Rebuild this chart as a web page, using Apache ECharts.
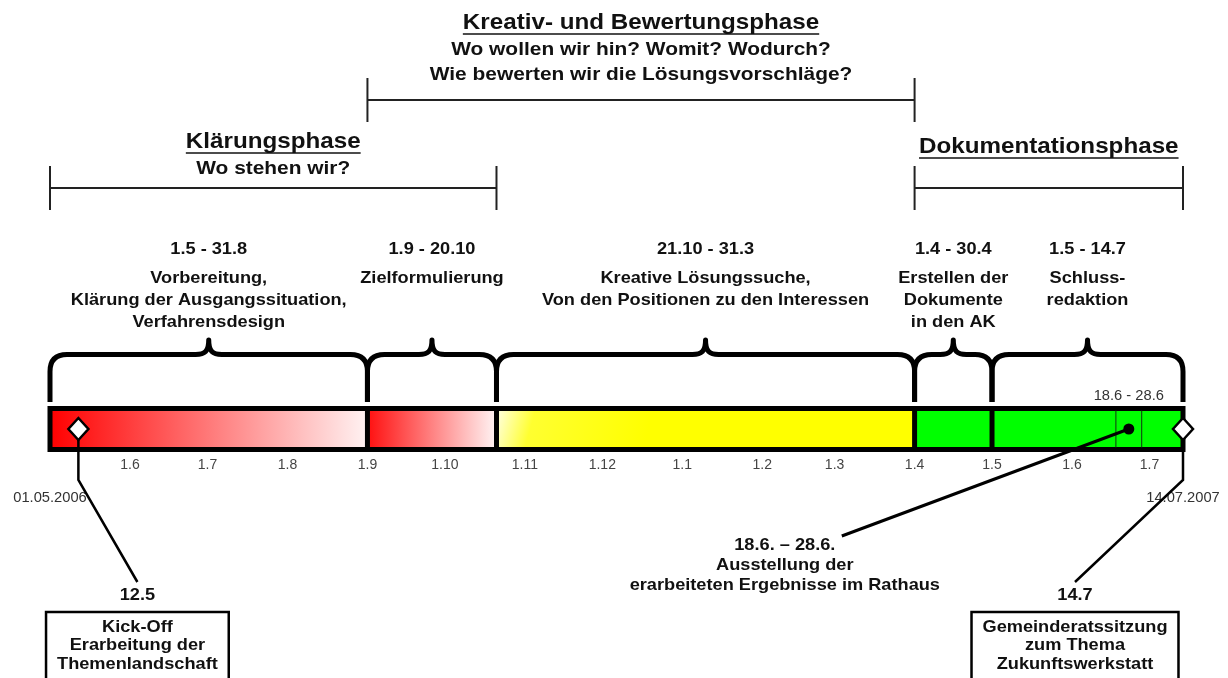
<!DOCTYPE html>
<html>
<head>
<meta charset="utf-8">
<title>Zukunftswerkstatt – Zeitplan</title>
<script src="https://cdn.jsdelivr.net/npm/echarts@6/dist/echarts.min.js"></script>
<style>
  html, body { margin: 0; padding: 0; background: #fff; }
  #chart { width: 1228px; height: 678px; }
</style>
</head>
<body>
<div id="chart"></div>
<script>
// --- Data ---
const timelineStart = '01.05.2006'
const timelineEnd = '14.07.2007'

const phaseTitles = ['Klärungsphase', 'Kreativ- und Bewertungsphase', 'Dokumentationsphase']
const phaseQuestions = [
  ['Wo stehen wir?'],
  ['Wo wollen wir hin? Womit? Wodurch?', 'Wie bewerten wir die Lösungsvorschläge?'],
  [],
]
const phaseStarts = ['01.05.2006', '01.09.2006', '01.04.2007']
const phaseEnds = ['21.10.2006', '01.04.2007', '14.07.2007']

const stepRanges = ['1.5 - 31.8', '1.9 - 20.10', '21.10 - 31.3', '1.4 - 30.4', '1.5 - 14.7']
const stepTexts = [
  ['Vorbereitung,', 'Klärung der Ausgangssituation,', 'Verfahrensdesign'],
  ['Zielformulierung'],
  ['Kreative Lösungssuche,', 'Von den Positionen zu den Interessen'],
  ['Erstellen der', 'Dokumente', 'in den AK'],
  ['Schluss-', 'redaktion'],
]
const stepStarts = ['01.05.2006', '01.09.2006', '21.10.2006', '01.04.2007', '01.05.2007']
const stepEnds = ['01.09.2006', '21.10.2006', '01.04.2007', '01.05.2007', '14.07.2007']

const monthTicks = [
  '01.06.2006', '01.07.2006', '01.08.2006', '01.09.2006', '01.10.2006', '01.11.2006',
  '01.12.2006', '01.01.2007', '01.02.2007', '01.03.2007', '01.04.2007', '01.05.2007',
  '01.06.2007', '01.07.2007',
]
const monthTickLabels = [
  '1.6', '1.7', '1.8', '1.9', '1.10', '1.11', '1.12', '1.1', '1.2', '1.3', '1.4', '1.5', '1.6', '1.7',
]

const exhibitionRange = ['18.06.2007', '28.06.2007']
const exhibitionShort = '18.6 - 28.6'
const exhibitionTexts = ['18.6. – 28.6.', 'Ausstellung der', 'erarbeiteten Ergebnisse im Rathaus']

const milestoneDates = ['12.05.2006', '14.07.2007']
const milestoneTitles = ['12.5', '14.7']
const milestoneTexts = [
  ['Kick-Off', 'Erarbeitung der', 'Themenlandschaft'],
  ['Gemeinderatssitzung', 'zum Thema', 'Zukunftswerkstatt'],
]

// --- Layout & styles ---
const FAMILY = '"Liberation Sans", Arial, Helvetica, sans-serif'
const TITLE_FONT = `bold 22px ${FAMILY}`
const QUESTION_FONT = `bold 19px ${FAMILY}`
const BODY_FONT = `bold 17px ${FAMILY}`
const SMALL_FONT = `14px ${FAMILY}`
const WIDE = 1.07 // source text is slightly stretched horizontally
const TITLE_WIDE = 1.1

const phaseRowY = [188, 100, 188]
const phaseTitleY = [142, 23, 147]
const bar = { top: 408.5, bottom: 449.5, mid: 429 }
const brace = { base: 402, top: 354.5, peak: 340, radius: 17 }
const stepRangeY = 249
const stepTextY = 278
const stepLineGap = 22
const tickLabelY = 465
const endLabelY = 498
const milestoneDx = [59, -108]
const exhibitionLineDx = -287
const exhibitionTextDx = -344

const stepFills = [
  new echarts.graphic.LinearGradient(0, 0, 1, 0, [
    { offset: 0, color: '#ff0000' },
    { offset: 1, color: '#fff2f2' },
  ]),
  new echarts.graphic.LinearGradient(0, 0, 1, 0, [
    { offset: 0, color: '#ff1010' },
    { offset: 1, color: '#fff4f4' },
  ]),
  new echarts.graphic.LinearGradient(0, 0, 0.35, 1, [
    { offset: 0, color: '#ffffe6' },
    { offset: 0.25, color: '#ffff30' },
    { offset: 1, color: '#ffff00' },
  ]),
  '#00ff00',
  '#00ff00',
]

// --- Helpers ---
const ts = (s) => {
  const [d, m, y] = s.split('.').map(Number)
  return new Date(y, m - 1, d).getTime()
}
const measureCtx = document.createElement('canvas').getContext('2d')
const textWidth = (text, font) => {
  measureCtx.font = font
  return measureCtx.measureText(text).width
}
const txt = (x, y, text, font, fill = '#111', scale = WIDE, align = 'center') => ({
  type: 'text',
  x,
  y,
  scaleX: scale,
  style: { x: 0, y: 0, text, font, fill, align, verticalAlign: 'middle' },
})
const seg = (x1, y1, x2, y2, lineWidth = 2, stroke = '#000') => ({
  type: 'line',
  shape: { x1, y1, x2, y2 },
  style: { stroke, lineWidth, lineCap: 'butt' },
})

const bracePath = (x0, x1) => {
  const xm = (x0 + x1) / 2
  const { base, top, peak, radius: r } = brace
  return (
    `M${x0} ${base} L${x0} ${top + r} Q${x0} ${top} ${x0 + r} ${top} ` +
    `L${xm - 13} ${top} C${xm - 4} ${top} ${xm} ${top - 3} ${xm} ${peak} ` +
    `C${xm} ${top - 3} ${xm + 4} ${top} ${xm + 13} ${top} ` +
    `L${x1 - r} ${top} Q${x1} ${top} ${x1} ${top + r} L${x1} ${base}`
  )
}

// --- Render functions ---
const renderPhase = (params, api) => {
  const i = params.dataIndex
  const x0 = api.coord([api.value(0), 0])[0]
  const x1 = api.coord([api.value(1), 0])[0]
  const y = api.coord([api.value(0), phaseRowY[i]])[1]
  const ty = api.coord([api.value(0), phaseTitleY[i]])[1]
  const cx = (x0 + x1) / 2
  const tw = textWidth(phaseTitles[i], TITLE_FONT) * TITLE_WIDE
  const children = [
    seg(x0, y, x1, y, 2, '#222'),
    seg(x0, y - 22, x0, y + 22, 2, '#222'),
    seg(x1, y - 22, x1, y + 22, 2, '#222'),
    txt(cx, ty, phaseTitles[i], TITLE_FONT, '#111', TITLE_WIDE),
    seg(cx - tw / 2, ty + 11, cx + tw / 2, ty + 11, 1.6, '#111'),
  ]
  phaseQuestions[i].forEach((q, k) => {
    children.push(txt(cx, ty + 27 + k * 25, q, QUESTION_FONT, '#111', TITLE_WIDE))
  })
  return { type: 'group', children }
}

const renderBrace = (params, api) => {
  const i = params.dataIndex
  const x0 = api.coord([api.value(0), 0])[0]
  const x1 = api.coord([api.value(1), 0])[0]
  const cx = (x0 + x1) / 2
  const children = [
    {
      type: 'path',
      shape: { pathData: bracePath(x0, x1) },
      style: { stroke: '#000', lineWidth: 5, fill: 'none', lineJoin: 'round' },
    },
    txt(cx, stepRangeY, stepRanges[i], BODY_FONT),
  ]
  stepTexts[i].forEach((t, k) => {
    children.push(txt(cx, stepTextY + k * stepLineGap, t, BODY_FONT))
  })
  return { type: 'group', children }
}

const renderStep = (params, api) => {
  const i = params.dataIndex
  const p0 = api.coord([api.value(0), bar.top])
  const p1 = api.coord([api.value(1), bar.bottom])
  return {
    type: 'rect',
    shape: { x: p0[0], y: p0[1], width: p1[0] - p0[0], height: p1[1] - p0[1] },
    style: { fill: stepFills[i] },
  }
}

const renderFrame = (params, api) => {
  const p0 = api.coord([api.value(0), bar.top])
  const p1 = api.coord([api.value(1), bar.bottom])
  const children = [
    {
      type: 'rect',
      shape: { x: p0[0], y: p0[1], width: p1[0] - p0[0], height: p1[1] - p0[1] },
      style: { fill: 'none', stroke: '#000', lineWidth: 5 },
    },
  ]
  stepStarts.slice(1).forEach((s) => {
    const x = api.coord([ts(s), 0])[0]
    children.push(seg(x, p0[1], x, p1[1], 5))
  })
  return { type: 'group', children }
}

const renderTick = (params, api) => {
  const p = api.coord([api.value(0), tickLabelY])
  return txt(p[0], p[1], monthTickLabels[params.dataIndex], SMALL_FONT, '#444', 1.0)
}

const renderEnds = (params, api) => {
  const p = api.coord([api.value(0), endLabelY])
  const label = params.dataIndex === 0 ? timelineStart : timelineEnd
  return txt(p[0], p[1], label, SMALL_FONT, '#333', 1.05)
}

const renderExhibition = (params, api) => {
  const xa = api.coord([api.value(0), 0])[0]
  const xb = api.coord([api.value(1), 0])[0]
  const xm = (xa + xb) / 2
  const children = [
    seg(xa, bar.top + 2, xa, bar.bottom - 2, 1, '#113311'),
    seg(xb, bar.top + 2, xb, bar.bottom - 2, 1, '#113311'),
    txt(xm, 396, exhibitionShort, SMALL_FONT, '#333', 1.05),
    seg(xm, bar.mid, xm + exhibitionLineDx, 536, 3),
    { type: 'circle', shape: { cx: xm, cy: bar.mid, r: 5.5 }, style: { fill: '#000' } },
  ]
  exhibitionTexts.forEach((t, k) => {
    children.push(txt(xm + exhibitionTextDx, 545 + k * 20, t, BODY_FONT))
  })
  return { type: 'group', children }
}

const renderMilestone = (params, api) => {
  const i = params.dataIndex
  const x = api.coord([api.value(0), 0])[0]
  const y = bar.mid
  const cx = x + milestoneDx[i]
  const lines = milestoneTexts[i]
  const w = Math.max(...lines.map((t) => textWidth(t, BODY_FONT))) * WIDE + 22
  const children = [
    {
      type: 'polyline',
      shape: { points: [[x, y + 10], [x, 480], [cx, 582]] },
      style: { stroke: '#000', lineWidth: 2.5, fill: 'none' },
    },
    {
      type: 'polygon',
      shape: { points: [[x, y - 11], [x + 10, y], [x, y + 11], [x - 10, y]] },
      style: { fill: '#fff', stroke: '#000', lineWidth: 2.5 },
    },
    txt(cx, 595, milestoneTitles[i], BODY_FONT),
    {
      type: 'rect',
      shape: { x: cx - w / 2, y: 612, width: w, height: 90 },
      style: { fill: '#fff', stroke: '#000', lineWidth: 2.5 },
    },
  ]
  lines.forEach((t, k) => {
    children.push(txt(cx, 627 + k * 18.5, t, BODY_FONT))
  })
  return { type: 'group', children }
}

// --- Chart ---
const chart = echarts.init(document.getElementById('chart'))
const xMin = ts(timelineStart)
const xMax = ts(timelineEnd)

const customSeries = (name, renderItem, data) => ({
  type: 'custom',
  name,
  renderItem,
  data,
  encode: { x: data[0].length > 1 ? [0, 1] : 0 },
  silent: true,
})

chart.setOption({
  animation: false,
  backgroundColor: '#fff',
  grid: { left: 50, right: 45, top: 0, bottom: 0, outerBoundsMode: 'none' },
  xAxis: { type: 'value', min: xMin, max: xMax, show: false },
  yAxis: { type: 'value', min: 0, max: 678, inverse: true, show: false },
  series: [
    customSeries('Phasen', renderPhase, phaseStarts.map((s, i) => [ts(s), ts(phaseEnds[i])])),
    customSeries('Schritte', renderBrace, stepStarts.map((s, i) => [ts(s), ts(stepEnds[i])])),
    customSeries('Balken', renderStep, stepStarts.map((s, i) => [ts(s), ts(stepEnds[i])])),
    customSeries('Rahmen', renderFrame, [[xMin, xMax]]),
    customSeries('Monate', renderTick, monthTicks.map((d) => [ts(d)])),
    customSeries('Endpunkte', renderEnds, [[xMin], [xMax]]),
    customSeries('Ausstellung', renderExhibition, [exhibitionRange.map(ts)]),
    customSeries('Meilensteine', renderMilestone, milestoneDates.map((d) => [ts(d)])),
  ],
})

window.addEventListener('resize', () => chart.resize())
</script>
</body>
</html>
